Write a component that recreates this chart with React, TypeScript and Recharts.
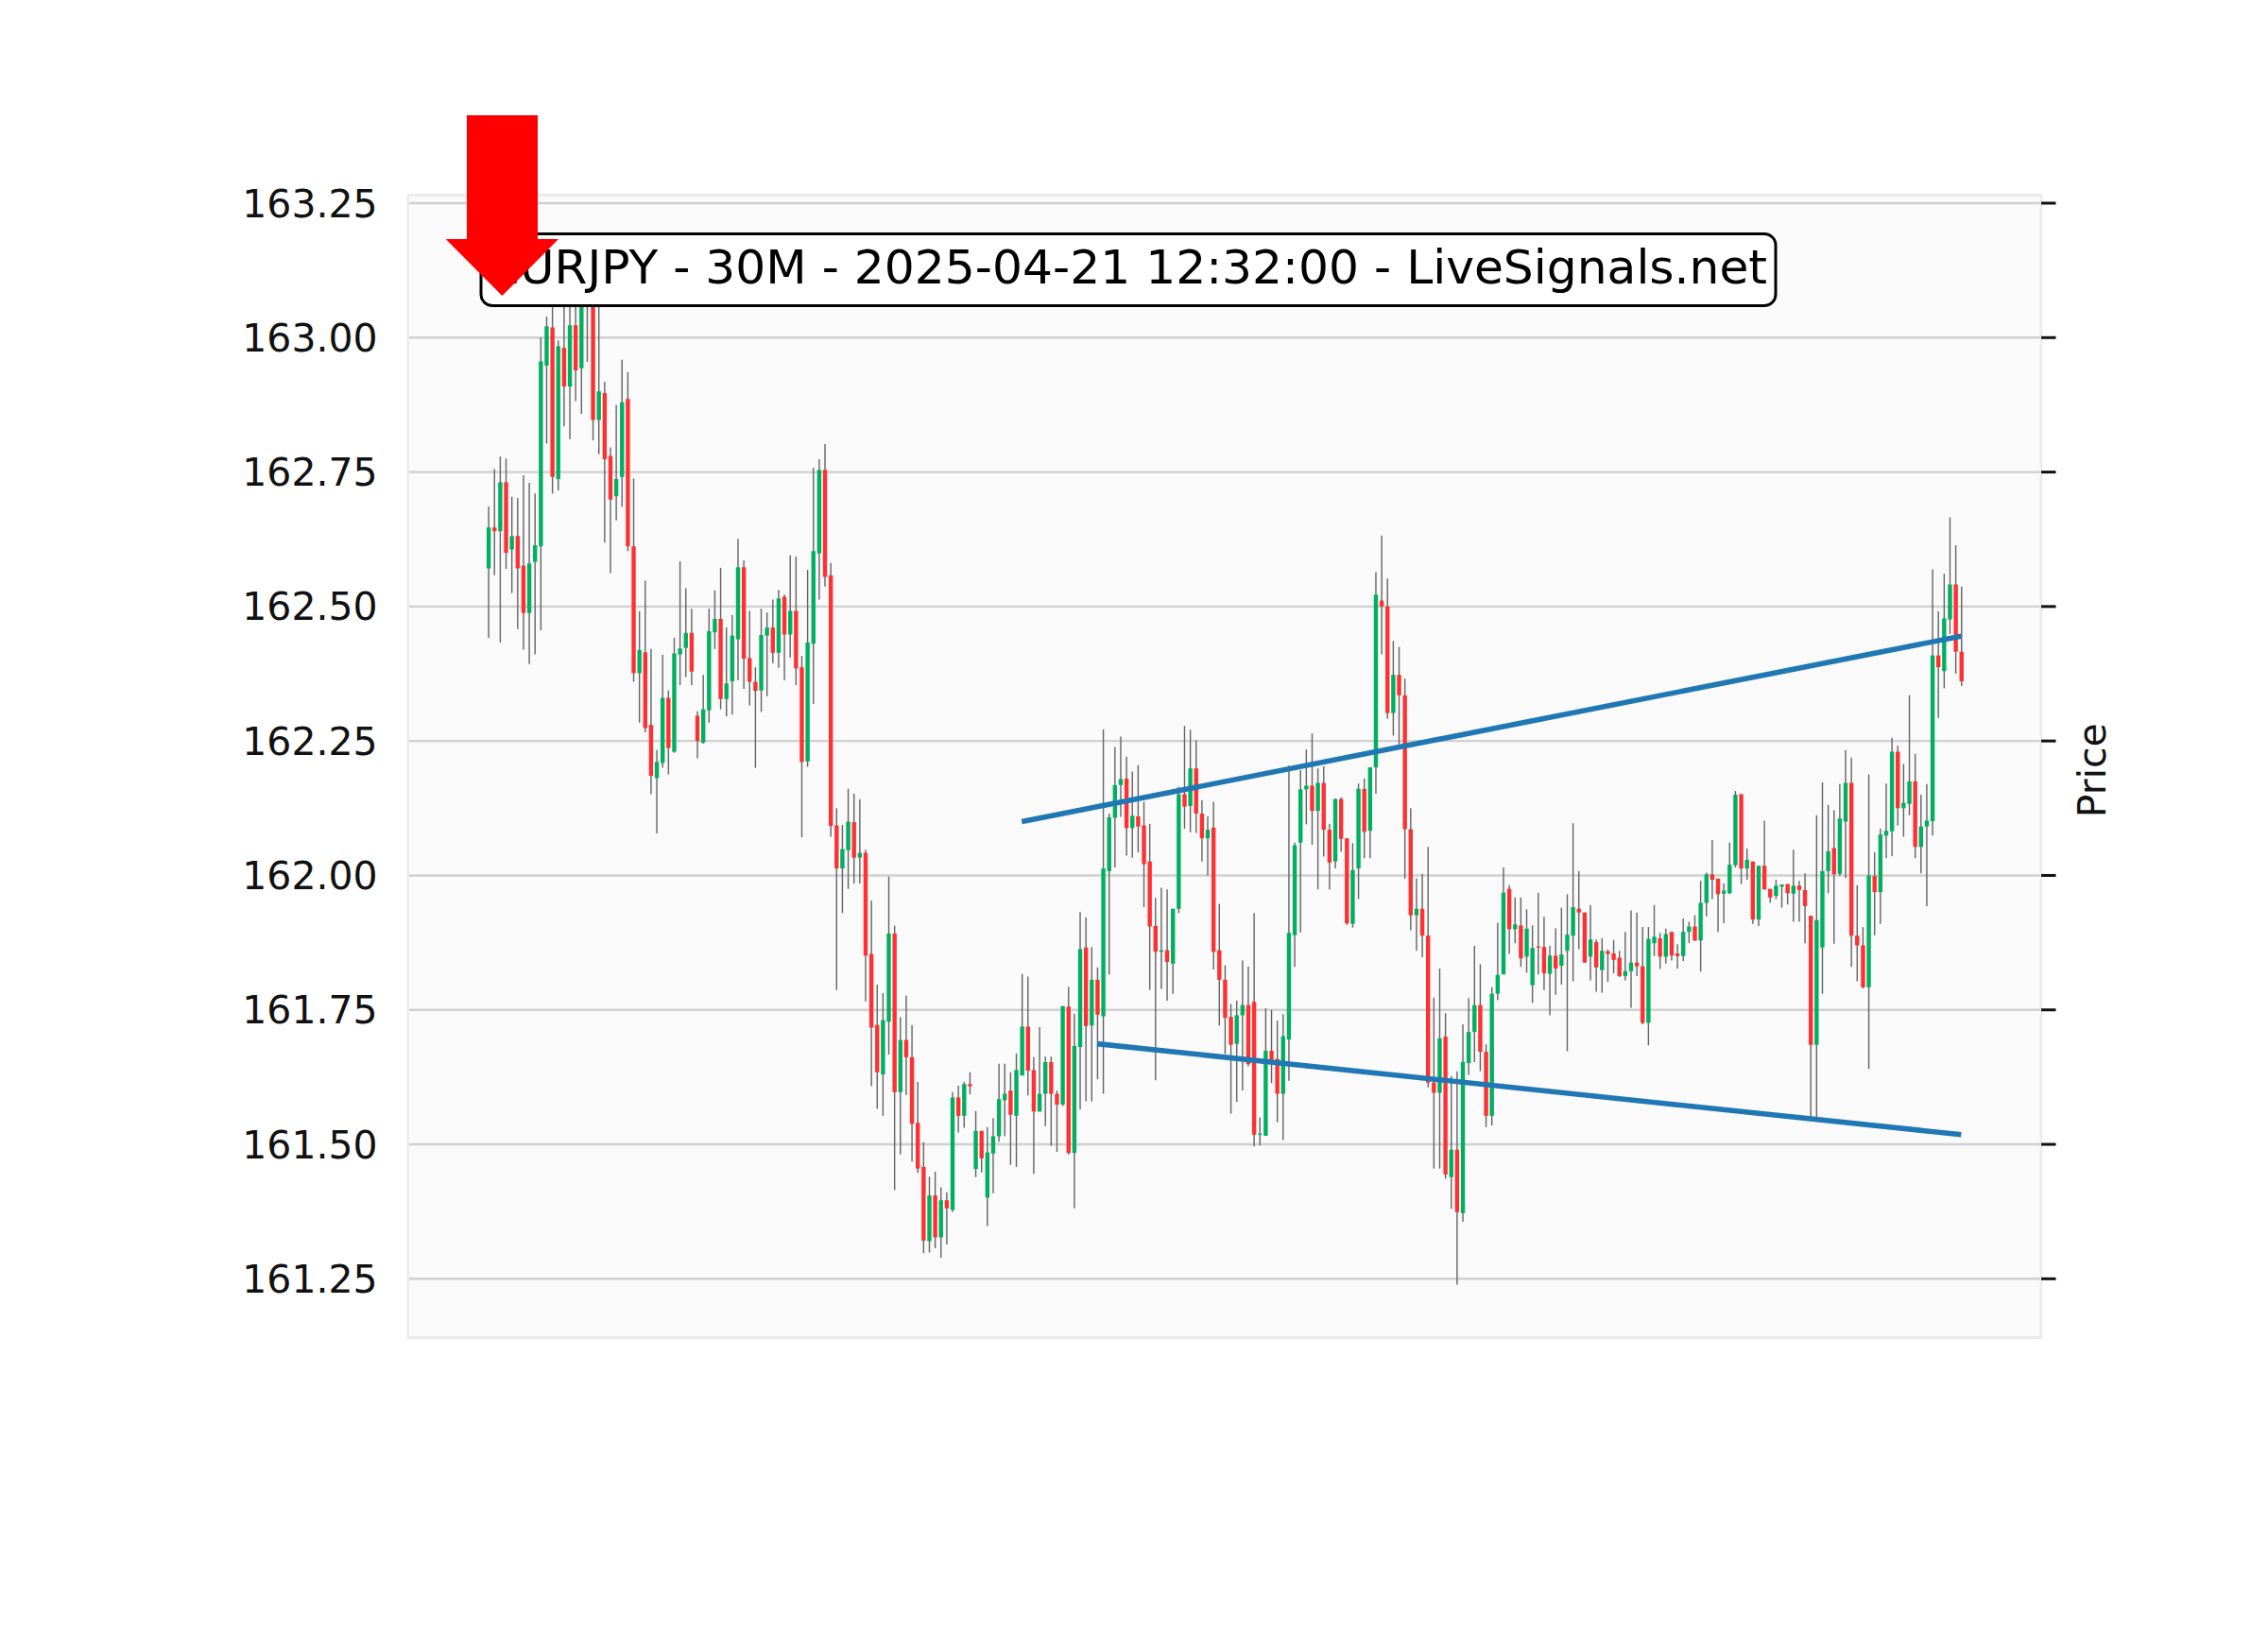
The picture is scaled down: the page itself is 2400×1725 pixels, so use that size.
import React from "react";
import {
  Bar,
  CartesianGrid,
  ComposedChart,
  ReferenceArea,
  ReferenceLine,
  XAxis,
  YAxis,
} from "recharts";

// EURJPY 30M candles
const opens = [
  162.571, 162.647, 162.640, 162.731, 162.606, 162.631, 162.576, 162.488, 162.583, 162.612,
  162.948, 163.019, 162.737, 162.981, 162.909, 163.023, 162.943, 163.070, 163.060, 162.847,
  162.897, 162.780, 162.705, 162.741, 162.886, 162.612, 162.376, 162.415, 162.280, 162.181,
  162.209, 162.330, 162.230, 162.411, 162.423, 162.451, 162.297, 162.247, 162.307, 162.452,
  162.477, 162.328, 162.361, 162.439, 162.573, 162.404, 162.360, 162.344, 162.446, 162.461,
  162.414, 162.518, 162.448, 162.492, 162.387, 162.212, 162.431, 162.599, 162.754, 162.558,
  162.093, 162.013, 162.047, 162.099, 162.033, 162.042, 161.854, 161.722, 161.630, 161.728,
  161.892, 161.597, 161.694, 161.662, 161.540, 161.458, 161.320, 161.405, 161.327, 161.396,
  161.378, 161.587, 161.553, 161.612, 161.454, 161.525, 161.401, 161.483, 161.515, 161.582,
  161.600, 161.553, 161.628, 161.719, 161.638, 161.561, 161.594, 161.653, 161.594, 161.574,
  161.756, 161.484, 161.681, 161.866, 161.721, 161.806, 161.738, 162.008, 162.107, 162.168,
  162.180, 162.088, 162.110, 162.093, 162.026, 161.906, 161.858, 161.861, 161.836, 161.938,
  162.151, 162.129, 162.199, 162.115, 162.069, 162.089, 161.861, 161.806, 161.737, 161.687,
  161.740, 161.759, 161.765, 161.518, 161.516, 161.674, 161.659, 161.594, 161.695, 161.889,
  162.061, 162.160, 162.167, 162.120, 162.172, 162.085, 162.026, 162.142, 162.069, 161.910,
  162.013, 162.161, 162.083, 162.201, 162.511, 162.500, 162.302, 162.373, 162.335, 162.086,
  161.926, 161.938, 161.888, 161.615, 161.596, 161.700, 161.439, 161.490, 161.372, 161.651,
  161.709, 161.759, 161.672, 161.553, 161.780, 161.816, 161.975, 161.900, 161.907, 161.849,
  161.796, 161.868, 161.867, 161.817, 161.851, 161.832, 161.860, 161.888, 161.938, 161.931,
  161.849, 161.876, 161.824, 161.859, 161.855, 161.847, 161.813, 161.822, 161.838, 161.831,
  161.726, 161.874, 161.883, 161.849, 161.895, 161.855, 161.850, 161.895, 161.905, 161.879,
  161.949, 162.002, 161.994, 161.966, 161.967, 162.019, 162.151, 162.013, 162.026, 161.918,
  162.018, 161.975, 161.962, 161.979, 161.984, 161.966, 161.981, 161.973, 161.925, 161.685,
  161.866, 162.008, 162.051, 162.003, 162.100, 162.172, 161.888, 161.870, 161.792, 161.999,
  161.969, 162.074, 162.082, 162.230, 162.125, 162.133, 162.175, 162.053, 162.091, 162.101,
  162.409, 162.380, 162.476, 162.541, 162.416,
];

const highs = [
  162.686, 162.756, 162.779, 162.775, 162.704, 162.702, 162.744, 162.730, 162.710, 163.000,
  163.039, 163.080, 162.995, 163.070, 163.080, 163.070, 163.100, 163.090, 163.080, 163.070,
  162.918, 162.796, 162.875, 162.959, 162.936, 162.738, 162.491, 162.548, 162.421, 162.233,
  162.410, 162.344, 162.442, 162.584, 162.534, 162.496, 162.305, 162.373, 162.496, 162.530,
  162.572, 162.461, 162.484, 162.626, 162.586, 162.492, 162.387, 162.496, 162.489, 162.513,
  162.531, 162.522, 162.595, 162.593, 162.408, 162.568, 162.758, 162.774, 162.802, 162.581,
  162.125, 162.094, 162.161, 162.152, 162.142, 162.048, 161.953, 161.797, 161.781, 161.998,
  161.907, 161.737, 161.777, 161.722, 161.616, 161.504, 161.440, 161.449, 161.420, 161.411,
  161.597, 161.609, 161.616, 161.634, 161.562, 161.525, 161.532, 161.549, 161.650, 161.650,
  161.634, 161.669, 161.817, 161.812, 161.662, 161.718, 161.663, 161.663, 161.600, 161.757,
  161.793, 161.743, 161.932, 161.922, 161.867, 161.829, 162.272, 162.115, 162.239, 162.258,
  162.221, 162.193, 162.205, 162.137, 162.096, 161.958, 161.977, 161.974, 161.938, 162.165,
  162.278, 162.271, 162.251, 162.140, 162.110, 162.137, 161.947, 161.833, 161.761, 161.767,
  161.842, 161.831, 161.930, 161.550, 161.753, 161.750, 161.730, 161.742, 162.204, 162.061,
  162.196, 162.234, 162.264, 162.199, 162.203, 162.096, 162.143, 162.145, 162.069, 162.060,
  162.171, 162.180, 162.201, 162.564, 162.632, 162.552, 162.436, 162.425, 162.366, 162.125,
  161.994, 162.003, 162.053, 161.773, 161.827, 161.744, 161.627, 161.636, 161.723, 161.772,
  161.869, 161.835, 161.686, 161.792, 161.912, 162.015, 161.982, 161.959, 161.959, 161.937,
  161.907, 161.968, 161.923, 161.869, 161.902, 161.940, 161.965, 162.097, 162.008, 161.931,
  161.945, 161.881, 161.883, 161.862, 161.880, 161.860, 161.895, 161.935, 161.931, 161.904,
  161.904, 161.945, 161.893, 161.901, 161.895, 161.872, 161.920, 161.914, 161.926, 161.990,
  162.005, 162.066, 161.994, 161.985, 162.061, 162.157, 162.151, 162.050, 162.026, 162.018,
  162.102, 161.975, 161.992, 161.983, 161.984, 162.048, 161.990, 162.004, 161.925, 162.112,
  162.173, 162.131, 162.121, 162.170, 162.233, 162.219, 161.982, 161.904, 162.188, 162.043,
  162.087, 162.171, 162.256, 162.241, 162.207, 162.335, 162.226, 162.150, 162.170, 162.569,
  162.491, 162.561, 162.666, 162.614, 162.537,
];

const lows = [
  162.442, 162.558, 162.433, 162.570, 162.525, 162.458, 162.420, 162.393, 162.411, 162.456,
  162.803, 162.710, 162.716, 162.835, 162.811, 162.882, 162.858, 162.955, 162.809, 162.783,
  162.619, 162.562, 162.660, 162.685, 162.603, 162.360, 162.284, 162.266, 162.151, 162.078,
  162.200, 162.188, 162.228, 162.354, 162.369, 162.354, 162.218, 162.245, 162.284, 162.421,
  162.309, 162.296, 162.299, 162.363, 162.347, 162.316, 162.200, 162.304, 162.333, 162.395,
  162.386, 162.363, 162.405, 162.354, 162.071, 162.202, 162.319, 162.513, 162.537, 162.072,
  161.787, 161.930, 161.975, 161.985, 161.985, 161.766, 161.608, 161.566, 161.553, 161.667,
  161.415, 161.481, 161.592, 161.468, 161.447, 161.298, 161.299, 161.307, 161.289, 161.314,
  161.374, 161.522, 161.531, 161.593, 161.439, 161.448, 161.348, 161.409, 161.505, 161.515,
  161.462, 161.458, 161.628, 161.591, 161.445, 161.561, 161.534, 161.497, 161.486, 161.571,
  161.481, 161.381, 161.565, 161.580, 161.580, 161.621, 161.594, 161.816, 162.015, 162.109,
  162.037, 162.033, 162.043, 161.941, 161.787, 161.619, 161.789, 161.767, 161.780, 161.930,
  162.087, 162.080, 162.079, 162.026, 162.000, 161.825, 161.721, 161.668, 161.557, 161.579,
  161.600, 161.645, 161.496, 161.498, 161.516, 161.614, 161.541, 161.508, 161.618, 161.830,
  161.894, 162.095, 162.057, 161.974, 162.035, 161.974, 162.013, 162.044, 161.908, 161.903,
  161.956, 162.032, 162.032, 162.152, 162.411, 162.291, 162.260, 162.244, 161.994, 161.898,
  161.860, 161.848, 161.606, 161.455, 161.455, 161.436, 161.380, 161.239, 161.356, 161.629,
  161.653, 161.636, 161.532, 161.535, 161.768, 161.816, 161.854, 161.874, 161.830, 161.819,
  161.763, 161.816, 161.787, 161.740, 161.778, 161.797, 161.673, 161.803, 161.863, 161.838,
  161.805, 161.784, 161.782, 161.802, 161.818, 161.811, 161.805, 161.754, 161.813, 161.723,
  161.684, 161.850, 161.826, 161.836, 161.842, 161.827, 161.841, 161.874, 161.878, 161.821,
  161.924, 161.956, 161.895, 161.911, 161.965, 162.015, 161.984, 161.992, 161.910, 161.906,
  161.974, 161.949, 161.956, 161.940, 161.946, 161.914, 161.914, 161.874, 161.550, 161.550,
  161.780, 161.967, 161.873, 161.999, 161.995, 161.830, 161.803, 161.790, 161.640, 161.889,
  161.910, 162.032, 162.036, 162.093, 162.072, 162.112, 162.032, 162.004, 161.943, 162.074,
  162.293, 162.348, 162.449, 162.375, 162.352,
];

const closes = [
  162.647, 162.640, 162.731, 162.600, 162.631, 162.571, 162.488, 162.580, 162.614, 162.956,
  163.021, 162.741, 162.984, 162.909, 163.023, 162.939, 163.070, 163.060, 162.847, 162.900,
  162.774, 162.699, 162.737, 162.880, 162.612, 162.376, 162.419, 162.274, 162.185, 162.211,
  162.330, 162.237, 162.413, 162.422, 162.451, 162.379, 162.250, 162.309, 162.454, 162.477,
  162.328, 162.357, 162.446, 162.573, 162.403, 162.360, 162.343, 162.447, 162.461, 162.414,
  162.515, 162.448, 162.492, 162.385, 162.211, 162.433, 162.603, 162.754, 162.555, 162.092,
  162.013, 162.049, 162.100, 162.033, 162.042, 161.851, 161.717, 161.634, 161.731, 161.892,
  161.597, 161.694, 161.662, 161.538, 161.455, 161.321, 161.405, 161.327, 161.396, 161.381,
  161.587, 161.553, 161.612, 161.608, 161.525, 161.474, 161.485, 161.515, 161.584, 161.594,
  161.555, 161.638, 161.719, 161.637, 161.561, 161.594, 161.653, 161.594, 161.574, 161.757,
  161.484, 161.683, 161.863, 161.720, 161.806, 161.741, 162.013, 162.108, 162.168, 162.179,
  162.088, 162.111, 162.091, 162.021, 161.905, 161.858, 161.861, 161.839, 161.938, 162.151,
  162.128, 162.199, 162.115, 162.069, 162.085, 161.858, 161.806, 161.735, 161.685, 161.740,
  161.759, 161.649, 161.518, 161.520, 161.674, 161.657, 161.594, 161.701, 161.893, 162.056,
  162.160, 162.167, 162.120, 162.172, 162.085, 162.024, 162.142, 162.068, 161.911, 162.010,
  162.161, 162.081, 162.201, 162.522, 162.500, 162.302, 162.373, 162.335, 162.086, 161.926,
  161.938, 161.888, 161.615, 161.596, 161.697, 161.444, 161.490, 161.374, 161.653, 161.709,
  161.759, 161.672, 161.553, 161.780, 161.815, 161.968, 161.900, 161.909, 161.846, 161.901,
  161.865, 161.866, 161.818, 161.851, 161.827, 161.853, 161.890, 161.941, 161.931, 161.838,
  161.881, 161.829, 161.860, 161.854, 161.843, 161.813, 161.822, 161.838, 161.831, 161.726,
  161.882, 161.886, 161.849, 161.891, 161.851, 161.850, 161.895, 161.905, 161.879, 161.949,
  162.002, 161.992, 161.965, 161.972, 162.020, 162.150, 162.013, 162.029, 161.918, 162.018,
  161.974, 161.959, 161.981, 161.983, 161.967, 161.981, 161.973, 161.943, 161.685, 161.917,
  162.008, 162.045, 162.002, 162.106, 162.172, 161.888, 161.870, 161.792, 162.000, 161.969,
  162.076, 162.083, 162.230, 162.125, 162.135, 162.175, 162.053, 162.091, 162.102, 162.409,
  162.387, 162.478, 162.541, 162.416, 162.361,
];

// trend lines: candle index and price at both ends
const upperX = [92, 254];
const upperY = [162.1, 162.445];
const lowerX = [105, 254];
const lowerY = [161.687, 161.518];

const priceTicks = [161.25, 161.5, 161.75, 162, 162.25, 162.5, 162.75, 163, 163.25];
const title = "EURJPY - 30M - 2025-04-21 12:32:00 - LiveSignals.net";

const xDomain = [-13.85, 267.8];
const yDomain = [161.1404, 163.2646];

const UP = "#00b060";
const DOWN = "#fe3032";
const WICK = "#636363";
const FONT = "DejaVu Sans, sans-serif";

const candles = opens.map((o, i) => ({
  i,
  open: o,
  high: highs[i],
  low: lows[i],
  close: closes[i],
  range: [lows[i], highs[i]],
}));

function Candle(props: any) {
  const { x, y, width, height, payload } = props;
  if (!payload || height == null) return <g />;
  const { open, close, high, low } = payload;
  const k = high > low ? height / (high - low) : 0;
  const py = (v: number) => y + (high - v) * k;
  const cx = x + width / 2;
  const top = py(Math.max(open, close));
  const bot = py(Math.min(open, close));
  const bodyH = Math.max(bot - top, 1.2);
  return (
    <g>
      <line x1={cx} x2={cx} y1={y} y2={y + height} stroke={WICK} strokeWidth={1.4} />
      <rect x={cx - 2.2} y={top} width={4.4} height={bodyH} fill={close >= open ? UP : DOWN} />
    </g>
  );
}

function PriceLabel(props: any) {
  const vb = props.viewBox || { x: 2160, y: 206.7, width: 100, height: 1209 };
  const lx = vb.x + 68;
  const ly = vb.y + vb.height / 2 + 4;
  return (
    <text
      x={lx}
      y={ly}
      transform={`rotate(-90, ${lx}, ${ly})`}
      textAnchor="middle"
      fontSize={41}
      fontFamily={FONT}
      fill="#111"
    >
      Price
    </text>
  );
}

export default function App() {
  return (
    <div style={{ position: "absolute", left: 0, top: 0, width: 2400, height: 1725, background: "#fff" }}>
      <ComposedChart
        width={2400}
        height={1725}
        data={candles}
        margin={{ top: 206.7, right: 140, bottom: 309.3, left: 281.7 }}
      >
        <CartesianGrid
          vertical={false}
          stroke="#d0d0d0"
          strokeWidth={2.4}
          fill="#fafafa"
        />
        <XAxis type="number" dataKey="i" domain={xDomain} allowDataOverflow hide />
        <YAxis
          type="number"
          domain={yDomain}
          allowDataOverflow
          ticks={priceTicks}
          width={150}
          axisLine={false}
          tickLine={false}
          tickSize={0}
          tickMargin={32}
          tickFormatter={(v: number) => v.toFixed(2)}
          tick={{ fill: "#111", fontSize: 41, fontFamily: FONT }}
        />
        <YAxis
          yAxisId="right"
          orientation="right"
          type="number"
          domain={yDomain}
          allowDataOverflow
          ticks={priceTicks}
          width={100}
          axisLine={false}
          tickSize={15.5}
          tickLine={{ stroke: "#111", strokeWidth: 3 }}
          tick={() => <g />}
          label={<PriceLabel />}
        />
        <ReferenceArea
          x1={xDomain[0]}
          x2={xDomain[1]}
          y1={yDomain[0]}
          y2={yDomain[1]}
          fill="none"
          stroke="#ebebeb"
          strokeWidth={2.5}
          ifOverflow="visible"
        />
        <Bar dataKey="range" barSize={5} shape={Candle} isAnimationActive={false} />
        <ReferenceLine
          segment={[
            { x: upperX[0], y: upperY[0] },
            { x: upperX[1], y: upperY[1] },
          ]}
          stroke="#1f77b4"
          strokeWidth={5.6}
          ifOverflow="visible"
        />
        <ReferenceLine
          segment={[
            { x: lowerX[0], y: lowerY[0] },
            { x: lowerX[1], y: lowerY[1] },
          ]}
          stroke="#1f77b4"
          strokeWidth={5.6}
          ifOverflow="visible"
        />
      </ComposedChart>
      <svg
        width={2400}
        height={1725}
        style={{ position: "absolute", left: 0, top: 0, pointerEvents: "none" }}
      >
        <rect x={509} y={247.5} width={1370} height={76} rx={12} fill="#fff" stroke="#000" strokeWidth={3} />
        <text x={1194} y={300} textAnchor="middle" fontSize={50.3} fontFamily={FONT} fill="#000">
          {title}
        </text>
        <polygon
          points="494,122 569,122 569,253 591,253 531.4,313 471.7,253 494,253"
          fill="#ff0000"
        />
      </svg>
    </div>
  );
}
